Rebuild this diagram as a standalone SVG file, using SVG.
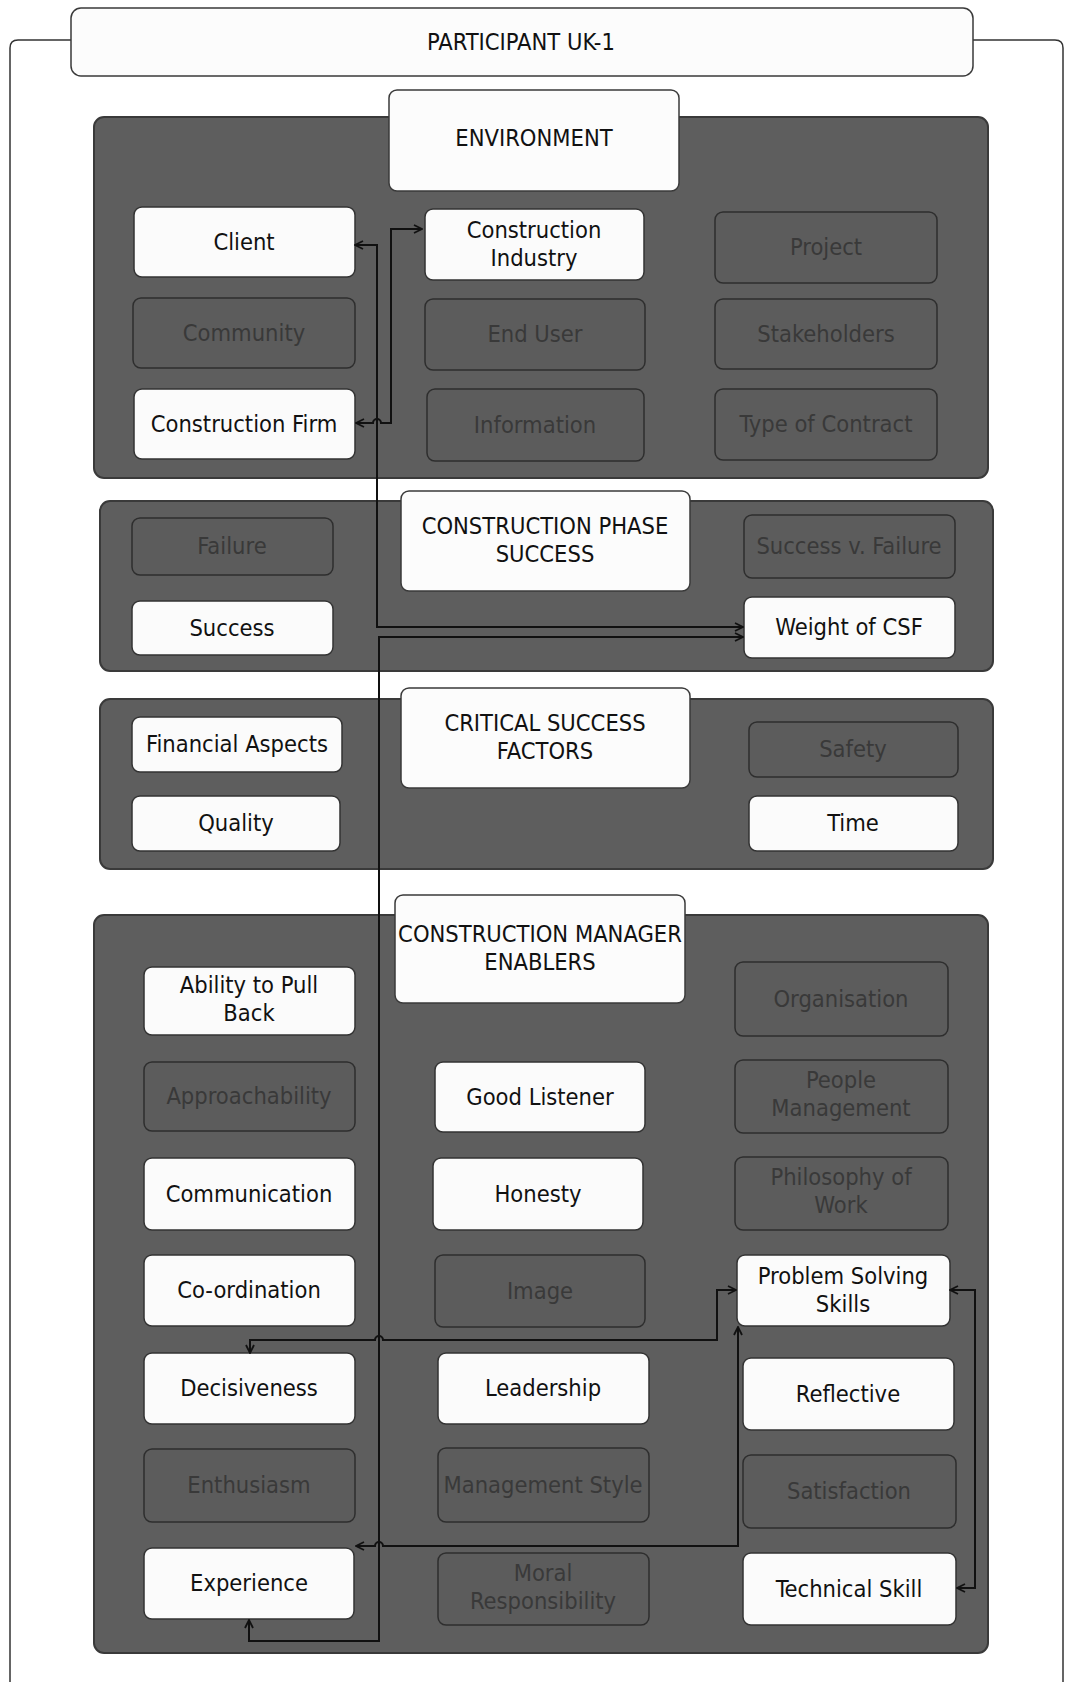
<svg xmlns="http://www.w3.org/2000/svg" width="1065" height="1682" viewBox="0 0 1065 1682">
<defs>
<marker id="arr" viewBox="0 0 10 10" refX="9" refY="5" markerWidth="10" markerHeight="10" markerUnits="userSpaceOnUse" orient="auto-start-reverse">
<path d="M1,1 L9,5 L1,9" fill="none" stroke="#111" stroke-width="1.8"/>
</marker>
</defs>
<style>
text{font-family:"DejaVu Sans Condensed","DejaVu Sans","Liberation Sans",sans-serif;font-stretch:condensed;font-size:23.5px;text-anchor:middle}
.panel{fill:#5e5e5e;stroke:#3a3a3a;stroke-width:2}
.hdr{fill:#fcfcfc;stroke:#3a3a3a;stroke-width:1.5}
.w rect{fill:#fbfbfb;stroke:#333;stroke-width:1.5}
.w text{fill:#111}
.d rect{fill:#5c5c5c;stroke:#2e2e2e;stroke-width:1.5}
.d text{fill:#393939}
.frame{fill:none;stroke:#333;stroke-width:1.5}
.conn path{fill:none;stroke:#111;stroke-width:2;marker-start:url(#arr);marker-end:url(#arr)}
</style>
<rect width="1065" height="1682" fill="#fff"/>
<path class="frame" d="M71,40 H18 Q10,40 10,48 V1682 M973,40 H1055 Q1063,40 1063,48 V1682"/>
<g id="title"><rect class="hdr" x="71" y="8" width="902" height="68" rx="10"/><text x="521" y="50" fill="#111">PARTICIPANT UK-1</text></g>

<rect class="panel" x="94" y="117" width="894" height="361" rx="10"/>
<rect class="panel" x="100" y="501" width="893" height="170" rx="10"/>
<rect class="panel" x="100" y="699" width="893" height="170" rx="10"/>
<rect class="panel" x="94" y="915" width="894" height="738" rx="10"/>

<g id="environment"><rect class="hdr" x="389" y="90" width="290" height="101" rx="8"/><text x="534" y="146" fill="#111">ENVIRONMENT</text></g>
<g id="construction-phase-success"><rect class="hdr" x="401" y="491" width="289" height="100" rx="8"/><text x="545" y="534" fill="#111">CONSTRUCTION PHASE</text><text x="545" y="562" fill="#111">SUCCESS</text></g>
<g id="critical-success-factors"><rect class="hdr" x="401" y="688" width="289" height="100" rx="8"/><text x="545" y="731" fill="#111">CRITICAL SUCCESS</text><text x="545" y="759" fill="#111">FACTORS</text></g>
<g id="construction-manager-enablers"><rect class="hdr" x="395" y="895" width="290" height="108" rx="8"/><text x="540" y="942" fill="#111">CONSTRUCTION MANAGER</text><text x="540" y="970" fill="#111">ENABLERS</text></g>

<g id="client" class="w"><rect x="134" y="207" width="221" height="70" rx="8"/><text x="244" y="250">Client</text></g>
<g id="construction-industry" class="w"><rect x="425" y="209" width="219" height="71" rx="8"/><text x="534" y="238">Construction</text><text x="534" y="266">Industry</text></g>
<g id="project" class="d"><rect x="715" y="212" width="222" height="71" rx="8"/><text x="826" y="255">Project</text></g>
<g id="community" class="d"><rect x="133" y="298" width="222" height="70" rx="8"/><text x="244" y="341">Community</text></g>
<g id="end-user" class="d"><rect x="425" y="299" width="220" height="71" rx="8"/><text x="535" y="342">End User</text></g>
<g id="stakeholders" class="d"><rect x="715" y="299" width="222" height="70" rx="8"/><text x="826" y="342">Stakeholders</text></g>
<g id="construction-firm" class="w"><rect x="134" y="389" width="221" height="70" rx="8"/><text x="244" y="432">Construction Firm</text></g>
<g id="information" class="d"><rect x="427" y="389" width="217" height="72" rx="8"/><text x="535" y="433">Information</text></g>
<g id="type-of-contract" class="d"><rect x="715" y="389" width="222" height="71" rx="8"/><text x="826" y="432">Type of Contract</text></g>

<g id="failure" class="d"><rect x="132" y="518" width="201" height="57" rx="8"/><text x="232" y="554">Failure</text></g>
<g id="success" class="w"><rect x="132" y="601" width="201" height="54" rx="8"/><text x="232" y="636">Success</text></g>
<g id="success-v-failure" class="d"><rect x="744" y="515" width="211" height="63" rx="8"/><text x="849" y="554">Success v. Failure</text></g>
<g id="weight-of-csf" class="w"><rect x="744" y="597" width="211" height="61" rx="8"/><text x="849" y="635">Weight of CSF</text></g>

<g id="financial-aspects" class="w"><rect x="132" y="717" width="210" height="55" rx="8"/><text x="237" y="752">Financial Aspects</text></g>
<g id="quality" class="w"><rect x="132" y="796" width="208" height="55" rx="8"/><text x="236" y="831">Quality</text></g>
<g id="safety" class="d"><rect x="749" y="722" width="209" height="55" rx="8"/><text x="853" y="757">Safety</text></g>
<g id="time" class="w"><rect x="749" y="796" width="209" height="55" rx="8"/><text x="853" y="831">Time</text></g>

<g id="ability-to-pull-back" class="w"><rect x="144" y="967" width="211" height="68" rx="8"/><text x="249" y="993">Ability to Pull</text><text x="249" y="1021">Back</text></g>
<g id="approachability" class="d"><rect x="144" y="1062" width="211" height="69" rx="8"/><text x="249" y="1104">Approachability</text></g>
<g id="communication" class="w"><rect x="144" y="1158" width="211" height="72" rx="8"/><text x="249" y="1202">Communication</text></g>
<g id="co-ordination" class="w"><rect x="144" y="1255" width="211" height="71" rx="8"/><text x="249" y="1298">Co-ordination</text></g>
<g id="decisiveness" class="w"><rect x="144" y="1353" width="211" height="71" rx="8"/><text x="249" y="1396">Decisiveness</text></g>
<g id="enthusiasm" class="d"><rect x="144" y="1449" width="211" height="73" rx="8"/><text x="249" y="1493">Enthusiasm</text></g>
<g id="experience" class="w"><rect x="144" y="1548" width="210" height="71" rx="8"/><text x="249" y="1591">Experience</text></g>

<g id="good-listener" class="w"><rect x="435" y="1062" width="210" height="70" rx="8"/><text x="540" y="1105">Good Listener</text></g>
<g id="honesty" class="w"><rect x="433" y="1158" width="210" height="72" rx="8"/><text x="538" y="1202">Honesty</text></g>
<g id="image" class="d"><rect x="435" y="1255" width="210" height="72" rx="8"/><text x="540" y="1299">Image</text></g>
<g id="leadership" class="w"><rect x="438" y="1353" width="211" height="71" rx="8"/><text x="543" y="1396">Leadership</text></g>
<g id="management-style" class="d"><rect x="438" y="1448" width="211" height="74" rx="8"/><text x="543" y="1493">Management Style</text></g>
<g id="moral-responsibility" class="d"><rect x="438" y="1553" width="211" height="72" rx="8"/><text x="543" y="1581">Moral</text><text x="543" y="1609">Responsibility</text></g>

<g id="organisation" class="d"><rect x="735" y="962" width="213" height="74" rx="8"/><text x="841" y="1007">Organisation</text></g>
<g id="people-management" class="d"><rect x="735" y="1060" width="213" height="73" rx="8"/><text x="841" y="1088">People</text><text x="841" y="1116">Management</text></g>
<g id="philosophy-of-work" class="d"><rect x="735" y="1157" width="213" height="73" rx="8"/><text x="841" y="1185">Philosophy of</text><text x="841" y="1213">Work</text></g>
<g id="problem-solving-skills" class="w"><rect x="737" y="1255" width="213" height="71" rx="8"/><text x="843" y="1284">Problem Solving</text><text x="843" y="1312">Skills</text></g>
<g id="reflective" class="w"><rect x="743" y="1358" width="211" height="72" rx="8"/><text x="848" y="1402">Reflective</text></g>
<g id="satisfaction" class="d"><rect x="743" y="1455" width="213" height="73" rx="8"/><text x="849" y="1499">Satisfaction</text></g>
<g id="technical-skill" class="w"><rect x="743" y="1553" width="213" height="72" rx="8"/><text x="849" y="1597">Technical Skill</text></g>

<g id="connectors" class="conn">
<path d="M355,245 H377 V627 H743"/>
<path d="M422,229 H391 V423 H381 a4,4 0 0 0 -8,0 H356"/>
<path d="M743,637 H379 V1641 H249 V1620"/>
<path d="M736,1290 H717 V1340 H383 a4,4 0 0 0 -8,0 H250 V1353"/>
<path d="M738,1327 V1546 H383 a4,4 0 0 0 -8,0 H356"/>
<path d="M950,1290 H975 V1588 H957"/>
</g>
</svg>
